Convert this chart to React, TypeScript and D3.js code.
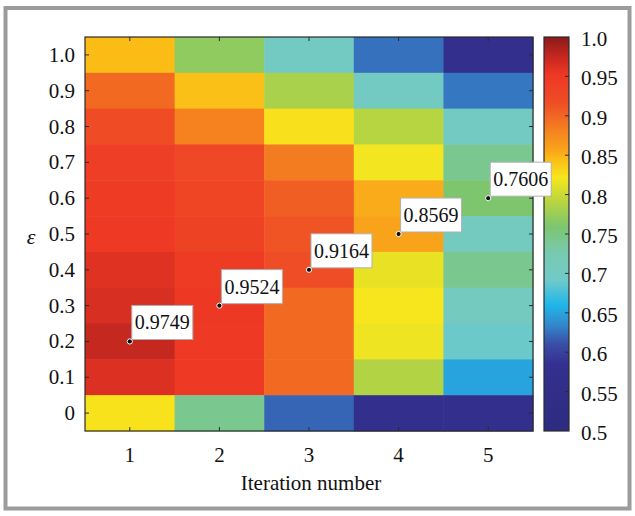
import React from "react";
import * as d3 from "d3";

const iterations = ["1", "2", "3", "4", "5"];
const epsilons = ["1.0", "0.9", "0.8", "0.7", "0.6", "0.5", "0.4", "0.3", "0.2", "0.1", "0"];
// accuracy[row][col], rows follow epsilons (top to bottom), cols follow iterations
const accuracy: number[][] = [
  [0.845, 0.77, 0.70, 0.625, 0.575],
  [0.897, 0.843, 0.783, 0.70, 0.628],
  [0.918, 0.882, 0.825, 0.79, 0.70],
  [0.942, 0.925, 0.885, 0.82, 0.742],
  [0.945, 0.93, 0.905, 0.853, 0.7606],
  [0.948, 0.935, 0.912, 0.8569, 0.705],
  [0.96, 0.945, 0.9164, 0.815, 0.742],
  [0.965, 0.9524, 0.898, 0.822, 0.705],
  [0.9749, 0.95, 0.897, 0.818, 0.69],
  [0.962, 0.95, 0.897, 0.788, 0.65],
  [0.824, 0.742, 0.62, 0.57, 0.57],
];
const annotIter = ["1", "2", "3", "4", "5"];
const annotEps = ["0.2", "0.3", "0.4", "0.5", "0.6"];

const colorDomain = [0.5, 0.585, 0.61, 0.635, 0.66, 0.692, 0.725, 0.76, 0.793, 0.822, 0.845, 0.857, 0.88, 0.9164, 0.952, 0.975, 1.0];
const colorRange = ["#2d2b80", "#34308f", "#3a4ea6", "#3388cc", "#1fb6ea", "#71cac8", "#78c9b0", "#7dc66e", "#bcd63c", "#f7e61d", "#fbbc16", "#f9a31a", "#f5841f", "#ef4d26", "#ee3824", "#c5281f", "#8a1a1a"];
const colorTicks = [1.0, 0.95, 0.9, 0.85, 0.8, 0.75, 0.7, 0.65, 0.6, 0.55, 0.5];
const colorTickLabels = ["1.0", "0.95", "0.9", "0.85", "0.8", "0.75", "0.7", "0.65", "0.6", "0.55", "0.5"];

const W = 635, H = 516;
const plot = { x0: 85, x1: 533, y0: 37, y1: 431 };
const cbar = { x0: 544, x1: 569 };
const FONT = "Liberation Serif, Times New Roman, DejaVu Serif, serif";

export default function App() {
  const x = d3.scaleBand<string>().domain(iterations).range([plot.x0, plot.x1]);
  const y = d3.scaleBand<string>().domain(epsilons).range([plot.y0, plot.y1]);
  const color = d3.scaleLinear<string>().domain(colorDomain).range(colorRange).interpolate(d3.interpolateRgb);
  const cy = d3.scaleLinear().domain([0.5, 1.0]).range([plot.y1, plot.y0]);
  const tickLen = 4;
  const ink = "#2a2a2a";
  const ts = { fontFamily: FONT };

  return (
    <svg width={W} height={H} style={{ position: "absolute", left: 0, top: 0, background: "#fff", fontFamily: FONT }}>
      <defs>
        <linearGradient id="cb" x1="0" y1="1" x2="0" y2="0">
          {colorDomain.map((d, i) => (
            <stop key={i} offset={(d - 0.5) / 0.5} stopColor={colorRange[i]} />
          ))}
        </linearGradient>
      </defs>
      <rect x={5.5} y={8} width={624} height={500.5} fill="#fff" stroke="#9c9c9c" strokeWidth={4} />

      {accuracy.map((row, ri) =>
        row.map((v, ci) => (
          <rect
            key={`${ri}-${ci}`}
            x={x(iterations[ci])!}
            y={y(epsilons[ri])!}
            width={x.bandwidth() + 0.5}
            height={y.bandwidth() + 0.5}
            fill={color(v)}
          />
        ))
      )}
      <rect x={plot.x0} y={plot.y0} width={plot.x1 - plot.x0} height={plot.y1 - plot.y0} fill="none" stroke={ink} strokeWidth={1.2} />
      {iterations.map((it) => {
        const cx = x(it)! + x.bandwidth() / 2;
        return (
          <g key={it}>
            <line x1={cx} x2={cx} y1={plot.y1} y2={plot.y1 - tickLen} stroke={ink} />
            <line x1={cx} x2={cx} y1={plot.y0} y2={plot.y0 + tickLen} stroke={ink} />
            <text x={cx} y={462} textAnchor="middle" style={ts} fontSize={21} fill="#111">{it}</text>
          </g>
        );
      })}
      {epsilons.map((e) => {
        const yy = y(e)! + y.bandwidth() / 2;
        return (
          <g key={e}>
            <line x1={plot.x0} x2={plot.x0 + tickLen} y1={yy} y2={yy} stroke={ink} />
            <line x1={plot.x1} x2={plot.x1 - tickLen} y1={yy} y2={yy} stroke={ink} />
            <text x={75} y={yy + 7} textAnchor="end" style={ts} fontSize={21} fill="#111">{e}</text>
          </g>
        );
      })}
      <text x={311} y={490} textAnchor="middle" style={ts} fontSize={21} fill="#111">Iteration number</text>
      <text x={31} y={244} textAnchor="middle" style={ts} fontStyle="italic" fontSize={22} fill="#111">ε</text>

      <rect x={cbar.x0} y={plot.y0} width={cbar.x1 - cbar.x0} height={plot.y1 - plot.y0} fill="url(#cb)" stroke={ink} strokeWidth={1.2} />
      {colorTicks.map((t, i) => (
        <g key={i}>
          {i > 0 && i < colorTicks.length - 1 && (
            <line x1={cbar.x1} x2={cbar.x1 - tickLen} y1={cy(t)} y2={cy(t)} stroke={ink} />
          )}
          <text x={581} y={cy(t) + 9} style={ts} fontSize={21} fill="#111">{colorTickLabels[i]}</text>
        </g>
      ))}

      {annotIter.map((it, i) => {
        const ci = iterations.indexOf(it);
        const ri = epsilons.indexOf(annotEps[i]);
        const v = accuracy[ri][ci];
        const px = x(it)! + x.bandwidth() / 2;
        const py = y(annotEps[i])! + y.bandwidth() / 2;
        const bw = 61, bh = 34;
        return (
          <g key={it}>
            <rect x={px + 2} y={py - 2 - bh} width={bw} height={bh} fill="#fff" stroke="#b0b0b0" strokeWidth={1} />
            <text x={px + 5} y={py - 12} style={ts} fontSize={20} fill="#111">{v.toFixed(4)}</text>
            <circle cx={px} cy={py} r={2.6} fill="#111" stroke="#fff" strokeWidth={1} />
          </g>
        );
      })}
    </svg>
  );
}
